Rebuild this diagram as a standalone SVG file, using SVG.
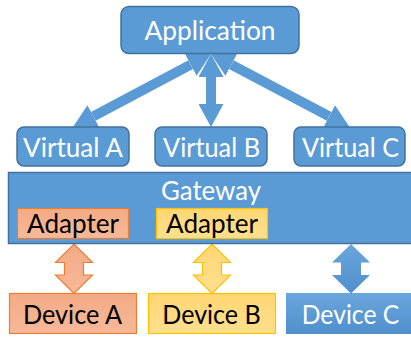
<svg xmlns="http://www.w3.org/2000/svg" width="411" height="338" viewBox="0 0 411 338">
  <defs>
    <style>
      .lbl { font-family: Lato, "Open Sans", "Liberation Sans", sans-serif; font-size: 27.5px; text-anchor: middle; }
      .light { fill: #ffffff; }
      .dark { fill: #000000; }
      .blue { fill: #5B9BD5; stroke: #41719C; stroke-width: 1.5; }
      .orange { fill: url(#gOrange); stroke: #ED7D31; stroke-width: 1.2; }
      .yellow { fill: url(#gYellow); stroke: #FFC000; stroke-width: 1.2; }
      .bluegrad { fill: url(#gBlue); stroke: none; }
      .link { stroke: #5B9BD5; stroke-width: 10; fill: none; marker-start: url(#head); marker-end: url(#head); }
    </style>
    <linearGradient id="gOrange" x1="0" y1="0" x2="0" y2="1">
      <stop offset="0" stop-color="#F4AA84"/>
      <stop offset="1" stop-color="#F6B99A"/>
    </linearGradient>
    <linearGradient id="gYellow" x1="0" y1="0" x2="0" y2="1">
      <stop offset="0" stop-color="#FFD673"/>
      <stop offset="1" stop-color="#FFE08E"/>
    </linearGradient>
    <linearGradient id="gBlue" x1="0" y1="0" x2="0" y2="1">
      <stop offset="0" stop-color="#6AA6DC"/>
      <stop offset="1" stop-color="#4F8FCC"/>
    </linearGradient>
    <!-- shared arrowhead for the double-headed links -->
    <marker id="head" markerUnits="userSpaceOnUse" viewBox="0 -12.5 23 25" refX="0" refY="0" markerWidth="23" markerHeight="25" orient="auto-start-reverse">
      <path d="M0,-12.5 L23,0 L0,12.5 Z" fill="#5B9BD5"/>
    </marker>
  </defs>

  <!-- connectors -->
  <g id="connectors">
    <line class="link" x1="190.7" y1="64.7" x2="93.3" y2="116.3"/>
    <line class="link" x1="211" y1="77" x2="211" y2="104"/>
    <line class="link" x1="231.3" y1="64.7" x2="329.2" y2="116.3"/>
    <!-- block arrows between adapters and devices -->
    <polygon class="orange" points="74,244 92.5,262.5 83.5,262.5 83.5,275 92.5,275 74,293.5 55.5,275 64.5,275 64.5,262.5 55.5,262.5"/>
    <polygon class="yellow" points="212,244 230.5,262.5 221.5,262.5 221.5,275 230.5,275 212,293.5 193.5,275 202.5,275 202.5,262.5 193.5,262.5"/>
    <polygon class="bluegrad" points="351,244 370,262.5 361,262.5 361,275 370,275 351,293.5 332,275 341,275 341,262.5 332,262.5"/>
  </g>

  <g id="application">
    <rect class="blue" x="121" y="6.5" width="178" height="47" rx="8"/>
    <text class="lbl light" x="210" y="39.5" textLength="131" lengthAdjust="spacingAndGlyphs">Application</text>
  </g>

  <g id="virtual-a">
    <rect class="blue" x="17" y="127" width="112" height="39" rx="7"/>
    <text class="lbl light" x="73" y="157" textLength="100" lengthAdjust="spacingAndGlyphs">Virtual A</text>
  </g>
  <g id="virtual-b">
    <rect class="blue" x="155" y="127" width="112" height="39" rx="7"/>
    <text class="lbl light" x="211.5" y="157" textLength="97" lengthAdjust="spacingAndGlyphs">Virtual B</text>
  </g>
  <g id="virtual-c">
    <rect class="blue" x="294" y="127" width="111" height="39" rx="7"/>
    <text class="lbl light" x="350.5" y="157" textLength="97" lengthAdjust="spacingAndGlyphs">Virtual C</text>
  </g>

  <g id="gateway">
    <rect class="blue" x="8.5" y="172.5" width="410" height="71"/>
    <text class="lbl light" x="211" y="199.5" textLength="100" lengthAdjust="spacingAndGlyphs">Gateway</text>
  </g>
  <g id="adapter-a">
    <rect class="orange" x="17.5" y="208.5" width="111" height="30"/>
    <text class="lbl dark" x="73" y="233" textLength="92" lengthAdjust="spacingAndGlyphs">Adapter</text>
  </g>
  <g id="adapter-b">
    <rect class="yellow" x="156.5" y="208.5" width="111" height="30"/>
    <text class="lbl dark" x="212" y="233" textLength="92" lengthAdjust="spacingAndGlyphs">Adapter</text>
  </g>

  <g id="device-a">
    <rect class="orange" x="9.5" y="293.5" width="127" height="40"/>
    <text class="lbl dark" x="72.5" y="324" textLength="99" lengthAdjust="spacingAndGlyphs">Device A</text>
  </g>
  <g id="device-b">
    <rect class="yellow" x="148.5" y="293.5" width="127" height="40"/>
    <text class="lbl dark" x="211.5" y="324" textLength="98.5" lengthAdjust="spacingAndGlyphs">Device B</text>
  </g>
  <g id="device-c">
    <rect class="bluegrad" x="286" y="293" width="128" height="41"/>
    <text class="lbl light" x="350.5" y="324" textLength="97.5" lengthAdjust="spacingAndGlyphs">Device C</text>
  </g>
</svg>
